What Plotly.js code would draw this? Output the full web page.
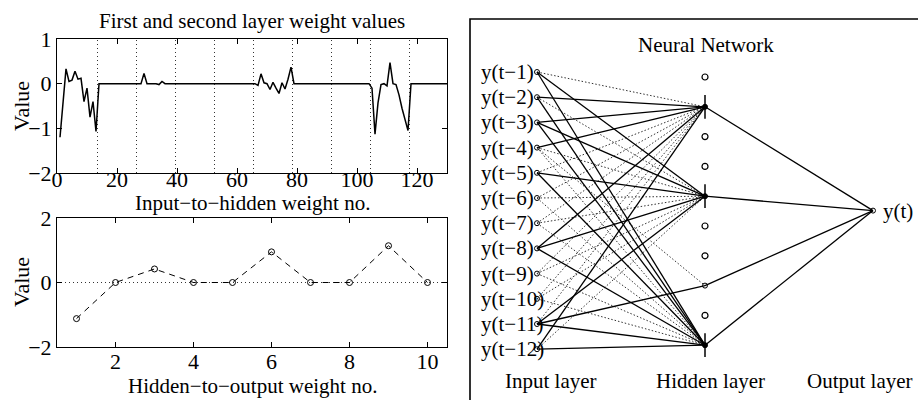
<!DOCTYPE html>
<html>
<head>
<meta charset="utf-8">
<script src="https://cdn.plot.ly/plotly-3.0.1.min.js"></script>
<style>html,body{margin:0;padding:0;background:#fff;}#chart{width:918px;height:400px;}</style>
</head>
<body>
<div id="chart"></div>
<script>
// ---------------- data ----------------
// first layer weights: 10 hidden units x (12 inputs + bias)
const inputHiddenWeights = [
  -1.20, -0.40, 0.33, 0.05, 0.08, 0.28, 0.10, 0.12, -0.40, -0.10, -0.75, -0.40, -1.07,
  0, 0, 0, 0, 0, 0, 0, 0, 0, 0, 0, 0, 0,
  0, 0, 0.23, 0, 0, 0, 0, -0.02, 0.05, 0, 0, 0, 0,
  0, 0, 0, 0, 0, 0, 0, 0, 0, 0, 0, 0, 0,
  0, 0, 0, 0, 0, 0, 0, 0, 0, 0, 0, 0, 0,
  0, -0.04, 0.22, 0.02, 0.00, -0.13, 0.03, -0.10, -0.22, 0.02, -0.12, 0.10, 0.37,
  0, 0, 0, 0, 0, 0, 0, 0, 0, 0, 0, 0, 0,
  0, 0, 0, 0, 0, 0, 0, 0, 0, 0, 0, 0, 0,
  -0.10, -1.13, -0.43, -0.02, 0.00, -0.05, 0.47, 0.00, -0.02, -0.25, -0.55, -0.80, -1.05,
  0, 0, 0, 0, 0, 0, 0, 0, 0, 0, 0, 0, 0
];
const hiddenOutputWeights = [-1.12, 0, 0.42, 0, 0, 0.95, 0, 0, 1.14, 0];

const topXTicks = [0, 20, 40, 60, 80, 100, 120];
const topYTicks = [-2, -1, 0, 1];
const botXTicks = [2, 4, 6, 8, 10];
const botYTicks = [-2, 0, 2];

const plotTitle = 'First and second layer weight values';
const topXTitle = 'Input\u2212to\u2212hidden weight no.';
const botXTitle = 'Hidden\u2212to\u2212output weight no.';
const yTitle = 'Value';
const netTitle = 'Neural Network';
const inputLabels = ['y(t\u22121)','y(t\u22122)','y(t\u22123)','y(t\u22124)','y(t\u22125)','y(t\u22126)',
                     'y(t\u22127)','y(t\u22128)','y(t\u22129)','y(t\u221210)','y(t\u221211)','y(t\u221212)'];
const outputLabel = 'y(t)';
const layerLabels = ['Input layer', 'Hidden layer', 'Output layer'];

// drawn links [hidden unit, input number]
const solidLinks = [
  [9,2],[9,3],[9,4],[9,8],[9,12],
  [6,1],[6,3],[6,5],[6,8],[6,11],
  [3,11],
  [1,1],[1,2],[1,3],[1,5],[1,8],[1,11],[1,12]
];
const dottedLinks = [
  [9,1],[9,5],[9,6],[9,7],[9,9],[9,10],[9,11],
  [6,2],[6,4],[6,6],[6,7],[6,9],[6,10],[6,12],
  [3,4],
  [1,4],[1,6],[1,7],[1,9],[1,10]
];

// ---------------- layout helpers ----------------
const FONT = 'Liberation Serif, Times New Roman, serif';
const nIn = inputLabels.length, nHid = hiddenOutputWeights.length, perUnit = nIn + 1;
const X_IN = 537, X_HID = 705, X_OUT = 873;
const inY = i => 72 + (i - 1) * 25.2;          // i = 1..12
const hidY = u => 77 + (nHid - u) * 29.8;       // unit 1 at bottom
const Y_OUT = (inY(1) + inY(nIn)) / 2;

const traces = [];
traces.push({
  x: inputHiddenWeights.map((_, i) => i + 1), y: inputHiddenWeights,
  type: 'scatter', mode: 'lines', xaxis: 'x', yaxis: 'y',
  line: {color: 'black', width: 1.5}, hoverinfo: 'skip'
});
traces.push({
  x: hiddenOutputWeights.map((_, i) => i + 1), y: hiddenOutputWeights,
  type: 'scatter', mode: 'lines+markers', xaxis: 'x2', yaxis: 'y2',
  line: {color: 'black', width: 1, dash: '6px,5px'},
  marker: {symbol: 'circle-open', size: 6, color: 'black', line: {width: 1}}, hoverinfo: 'skip'
});

function edgeTrace(links, style) {
  const x = [], y = [];
  links.forEach(([u, i]) => { x.push(X_IN, X_HID, null); y.push(inY(i), hidY(u), null); });
  return Object.assign({x, y, type: 'scatter', mode: 'lines', xaxis: 'x3', yaxis: 'y3', hoverinfo: 'skip'}, style);
}
traces.push(edgeTrace(dottedLinks, {line: {color: '#333', width: 1, dash: '1.5px,2px'}}));
traces.push(edgeTrace(solidLinks, {line: {color: 'black', width: 1.3}}));
(function () {
  const x = [], y = [];
  hiddenOutputWeights.forEach((w, k) => { if (w !== 0) { x.push(X_HID, X_OUT, null); y.push(hidY(k + 1), Y_OUT, null); } });
  traces.push({x, y, type: 'scatter', mode: 'lines', xaxis: 'x3', yaxis: 'y3', line: {color: 'black', width: 1.3}, hoverinfo: 'skip'});
})();
traces.push({
  x: inputLabels.map(() => X_IN), y: inputLabels.map((_, i) => inY(i + 1)),
  type: 'scatter', mode: 'markers', xaxis: 'x3', yaxis: 'y3',
  marker: {symbol: 'circle-open', size: 5, color: 'black', line: {width: 1}}, hoverinfo: 'skip'
});
const idle = [], active = [], biased = [];
hiddenOutputWeights.forEach((w, k) => {
  const u = k + 1;
  if (w === 0) idle.push(u); else active.push(u);
  if (inputHiddenWeights[u * perUnit - 1] !== 0) biased.push(u);
});
traces.push({
  x: idle.map(() => X_HID), y: idle.map(hidY), type: 'scatter', mode: 'markers', xaxis: 'x3', yaxis: 'y3',
  marker: {symbol: 'circle-open', size: 6, color: 'black', line: {width: 1.2}}, hoverinfo: 'skip'
});
traces.push({
  x: active.map(() => X_HID), y: active.map(hidY), type: 'scatter', mode: 'markers', xaxis: 'x3', yaxis: 'y3',
  marker: {symbol: 'circle-open', size: 5, color: 'black', line: {width: 1}}, hoverinfo: 'skip'
});
traces.push({
  x: biased.map(() => X_HID), y: biased.map(hidY), type: 'scatter', mode: 'markers', xaxis: 'x3', yaxis: 'y3',
  marker: {symbol: 'line-ns-open', size: 17, color: 'black', line: {width: 1.5, color: 'black'}}, hoverinfo: 'skip'
});
traces.push({
  x: biased.map(() => X_HID), y: biased.map(hidY), type: 'scatter', mode: 'markers', xaxis: 'x3', yaxis: 'y3',
  marker: {symbol: 'circle', size: 5, color: 'black'}, hoverinfo: 'skip'
});
traces.push({
  x: [X_OUT], y: [Y_OUT], type: 'scatter', mode: 'markers', xaxis: 'x3', yaxis: 'y3',
  marker: {symbol: 'circle-open', size: 5, color: 'black', line: {width: 1}}, hoverinfo: 'skip'
});

// ---------------- layout ----------------
const W = 918, H = 400;
const px = v => v / W, py = v => 1 - v / H;
const axBase = {
  showline: true, linecolor: 'black', linewidth: 1, mirror: 'ticks', ticks: 'inside', ticklen: 5,
  tickcolor: 'black', showgrid: false, zeroline: false, tickfont: {size: 22, family: FONT, color: 'black'}
};
const shapes = [];
for (let k = 1; k < nHid; k++) {
  shapes.push({type: 'line', xref: 'x', yref: 'y domain', x0: k * perUnit + 0.5, x1: k * perUnit + 0.5, y0: 0, y1: 1,
    line: {color: '#333', width: 1, dash: '1px,3px'}, layer: 'below'});
}
shapes.push({type: 'line', xref: 'x2 domain', yref: 'y2', x0: 0, x1: 1, y0: 0, y1: 0,
  line: {color: '#333', width: 1, dash: '1px,3px'}, layer: 'below'});
shapes.push({type: 'rect', xref: 'paper', yref: 'paper', x0: px(470), x1: 1.02, y0: py(19), y1: -0.02,
  line: {color: 'black', width: 1.6}});

const ann = (text, x, y, extra) => Object.assign({text, x, y, showarrow: false, xanchor: 'center', yanchor: 'middle',
  font: {size: 21, family: FONT, color: 'black'}}, extra || {});
const annotations = [
  ann(plotTitle, px(252), py(21), {xref: 'paper', yref: 'paper'}),
  ann(topXTitle, px(252), py(203), {xref: 'paper', yref: 'paper'}),
  ann(botXTitle, px(252), py(386), {xref: 'paper', yref: 'paper'}),
  ann(yTitle, px(21), py(106), {xref: 'paper', yref: 'paper', textangle: -90, font: {size: 22, family: FONT, color: 'black'}}),
  ann(yTitle, px(21), py(282), {xref: 'paper', yref: 'paper', textangle: -90, font: {size: 22, family: FONT, color: 'black'}}),
  ann(netTitle, 706, 45, {xref: 'x3', yref: 'y3'}),
  ann(outputLabel, X_OUT + 8, Y_OUT, {xref: 'x3', yref: 'y3', xanchor: 'left'})
];
inputLabels.forEach((t, i) => annotations.push(ann(t, 479, inY(i + 1), {xref: 'x3', yref: 'y3', xanchor: 'left'})));
[551, 710, 860].forEach((x, j) => annotations.push(ann(layerLabels[j], x, 381, {xref: 'x3', yref: 'y3'})));

const layout = {
  width: W, height: H, margin: {l: 0, r: 0, t: 0, b: 0}, showlegend: false,
  paper_bgcolor: 'white', plot_bgcolor: 'white',
  font: {family: FONT, size: 21, color: 'black'},
  xaxis: Object.assign({}, axBase, {domain: [px(57), px(447)], range: [0, 130], tickvals: topXTicks, anchor: 'y',
    ticklabelstandoff: -13}),
  yaxis: Object.assign({}, axBase, {domain: [py(173), py(39)], range: [-2, 1], tickvals: topYTicks, anchor: 'x'}),
  xaxis2: Object.assign({}, axBase, {domain: [px(57), px(447)], range: [0.5, 10.5], tickvals: botXTicks, anchor: 'y2',
    ticklabelstandoff: -5}),
  yaxis2: Object.assign({}, axBase, {domain: [py(347), py(218)], range: [-2, 2], tickvals: botYTicks, anchor: 'x2'}),
  xaxis3: {domain: [px(472), 1], range: [472, 918], visible: false, anchor: 'y3', fixedrange: true},
  yaxis3: {domain: [0, 1], range: [400, 0], visible: false, anchor: 'x3', fixedrange: true},
  shapes: shapes, annotations: annotations
};

Plotly.newPlot('chart', traces, layout, {staticPlot: true, displayModeBar: false});
</script>
</body>
</html>
